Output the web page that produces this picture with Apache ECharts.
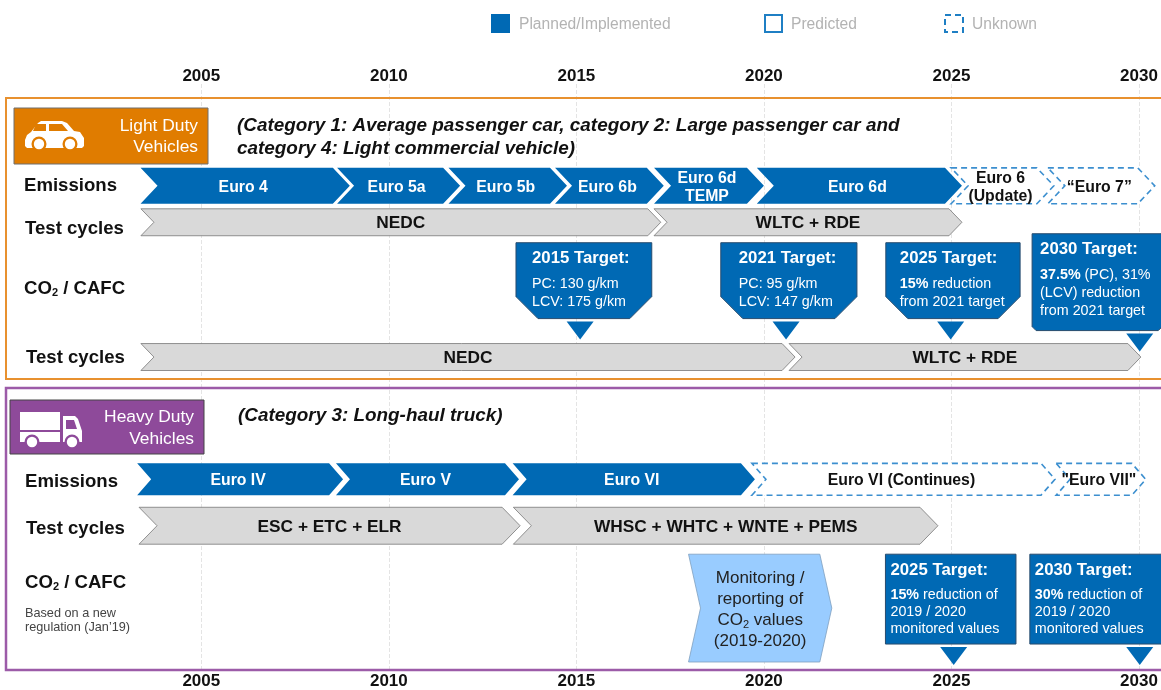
<!DOCTYPE html>
<html>
<head>
<meta charset="utf-8">
<title>EU vehicle regulation timeline</title>
<script src="https://cdn.jsdelivr.net/npm/echarts@6/dist/echarts.min.js"></script>
<style>
  html, body { margin: 0; padding: 0; background: #fff; }
  #chart { width: 1161px; height: 690px; }
</style>
</head>
<body>
<div id="chart"></div>
<script>
// all spans are in years
const legendItems = ["Planned/Implemented", "Predicted", "Unknown"];

const ldvEmissions = [
  { name: "Euro 4", from: 2003.38, to: 2008.96 },
  { name: "Euro 5a", from: 2008.62, to: 2011.9 },
  { name: "Euro 5b", from: 2011.59, to: 2014.75 },
  { name: "Euro 6b", from: 2014.43, to: 2017.33 },
  { name: "Euro 6d\nTEMP", from: 2017.07, to: 2020.0 },
  { name: "Euro 6d", from: 2019.81, to: 2025.28 },
  { name: "Euro 6\n(Update)", from: 2024.99, to: 2027.73, unknown: true },
  { name: "\u201cEuro 7\u201d", from: 2027.57, to: 2030.42, unknown: true },
];
const ldvEmissionTests = [
  { name: "NEDC", from: 2003.39, to: 2017.25 },
  { name: "WLTC + RDE", from: 2017.07, to: 2025.28 },
];
const ldvCo2Tests = [
  { name: "NEDC", from: 2003.39, to: 2020.83 },
  { name: "WLTC + RDE", from: 2020.67, to: 2030.05 },
];
const hdvEmissions = [
  { name: "Euro IV", from: 2003.29, to: 2008.78 },
  { name: "Euro V", from: 2008.59, to: 2013.47 },
  { name: "Euro VI", from: 2013.3, to: 2019.76 },
  { name: "Euro VI (Continues)", from: 2019.68, to: 2027.76, unknown: true },
  { name: "\"Euro VII\"", from: 2027.79, to: 2030.18, unknown: true },
];
const hdvTests = [
  { name: "ESC + ETC + ELR", from: 2003.34, to: 2013.5 },
  { name: "WHSC + WHTC + WNTE + PEMS", from: 2013.32, to: 2024.64 },
];
const hdvMonitoring = [
  { name: "Monitoring /\nreporting of\nCO{sub|2} values\n(2019-2020)", from: 2017.99, to: 2021.81 },
];
const ldvTargets = [
  { title: "2015 Target:", lines: ["PC: 130 g/km", "LCV: 175 g/km"], from: 2013.39, to: 2017.01, year: 2015.1 },
  { title: "2021 Target:", lines: ["PC: 95 g/km", "LCV: 147 g/km"], from: 2018.85, to: 2022.48, year: 2020.59 },
  { title: "2025 Target:", lines: ["{b|15%} reduction", "from 2021 target"], from: 2023.25, to: 2026.83, year: 2024.98 },
];
const ldvTarget2030 = [
  { title: "2030 Target:", lines: ["{b|37.5%} (PC), 31%", "(LCV) reduction", "from 2021 target"], from: 2027.15, to: 2030.62, year: 2030.02 },
];
const hdvTargets = [
  { title: "2025 Target:", lines: ["{b|15%} reduction of", "2019 / 2020", "monitored values"], from: 2023.24, to: 2026.72, year: 2025.06 },
  { title: "2030 Target:", lines: ["{b|30%} reduction of", "2019 / 2020", "monitored values"], from: 2027.09, to: 2030.62, year: 2030.02 },
];

const FONT = '"Liberation Sans", Arial, sans-serif';
const BLUE = "#0069B4";
const DASH = "#3C8FCF";
const GREY = "#D9D9D9";
const ORANGE = "#E07C00";
const PURPLE = "#8E4A9A";

const chart = echarts.init(document.getElementById("chart"), null, { renderer: "canvas" });

// chevron strip on one row
function phaseSeries(list, top, bottom, tip, look) {
  return {
    type: "custom",
    silent: true,
    clip: false,
    z: 5,
    data: list.map((p) => [p.from, p.to]),
    encode: { x: [0, 1] },
    renderItem: (params, api) => {
      const item = list[params.dataIndex];
      const x0 = api.coord([api.value(0), top])[0];
      const x1 = api.coord([api.value(1), top])[0];
      const y0 = api.coord([2005, top])[1];
      const y1 = api.coord([2005, bottom])[1];
      const mid = (y0 + y1) / 2;
      const style = item.unknown
        ? { fill: "#fff", stroke: DASH, lineWidth: 1.6, lineDash: [6, 4] }
        : { fill: look.fill, stroke: look.stroke, lineWidth: look.stroke ? 0.8 : 0 };
      const color = item.unknown ? "#111" : look.color;
      return {
        type: "group",
        children: [
          {
            type: "polygon",
            shape: {
              points: [
                [x0, y0], [x1 - tip, y0], [x1, mid], [x1 - tip, y1], [x0, y1], [x0 + tip, mid],
              ],
            },
            style: style,
          },
          {
            type: "text",
            x: (x0 + x1) / 2 + (look.dx || 0),
            y: mid + (look.dy || 0),
            style: {
              text: item.name,
              fill: color,
              font: look.weight + " " + look.size + "px " + FONT,
              align: "center",
              verticalAlign: "middle",
              lineHeight: look.lineHeight || 18,
              rich: look.rich,
            },
          },
        ],
      };
    },
  };
}

// target box with its marker triangle
function targetSeries(list, top, bottom, chamfer, markTop, markBottom, insets, textTop, gap) {
  return {
    type: "custom",
    silent: true,
    clip: false,
    z: 6,
    data: list.map((p) => [p.from, p.to, p.year]),
    encode: { x: [0, 1, 2] },
    renderItem: (params, api) => {
      const item = list[params.dataIndex];
      const x0 = api.coord([api.value(0), top])[0];
      const x1 = api.coord([api.value(1), top])[0];
      const xm = api.coord([api.value(2), top])[0];
      const y0 = api.coord([2005, top])[1];
      const y1 = api.coord([2005, bottom])[1];
      const c = chamfer;
      const tx = x0 + insets[params.dataIndex];
      const children = [
        {
          type: "polygon",
          shape: {
            points: [
              [x0, y0], [x1, y0], [x1, y1 - c], [x1 - c, y1], [x0 + c, y1], [x0, y1 - c],
            ],
          },
          style: { fill: BLUE, stroke: "#274b6d", lineWidth: 1 },
        },
        {
          type: "polygon",
          shape: {
            points: [
              [xm - 13.5, api.coord([2005, markTop])[1]],
              [xm + 13.5, api.coord([2005, markTop])[1]],
              [xm, api.coord([2005, markBottom])[1]],
            ],
          },
          style: { fill: BLUE },
        },
        {
          type: "text",
          x: tx,
          y: y0 + textTop,
          style: {
            text: item.title,
            fill: "#fff",
            font: "bold 16.8px " + FONT,
            align: "left",
            verticalAlign: "middle",
          },
        },
      ];
      item.lines.forEach((line, i) => {
        children.push({
          type: "text",
          x: tx,
          y: y0 + textTop + gap[0] + i * gap[1],
          style: {
            text: line,
            fill: "#fff",
            font: "14.3px " + FONT,
            align: "left",
            verticalAlign: "middle",
            rich: { b: { font: "bold 14.3px " + FONT, fill: "#fff" } },
          },
        });
      });
      return { type: "group", children: children };
    },
  };
}

function rowLabel(text, x, y, size) {
  return {
    type: "text",
    x: x,
    y: y,
    z: 10,
    style: {
      text: text,
      fill: "#111",
      font: "bold " + (size || 18.6) + "px " + FONT,
      verticalAlign: "middle",
      rich: { sub: { font: "bold 11px " + FONT, fill: "#111", verticalAlign: "bottom", padding: [8, 0, 0, 0] } },
    },
  };
}

function plainText(text, x, y, font, fill, align) {
  return {
    type: "text",
    x: x,
    y: y,
    z: 10,
    style: { text: text, fill: fill, font: font + " " + FONT, align: align || "left", verticalAlign: "middle" },
  };
}

function poly(points, fill) {
  return { type: "polygon", shape: { points: points }, style: { fill: fill }, z: 9 };
}

function wheel(cx, cy, ring) {
  return [
    { type: "circle", shape: { cx: cx, cy: cy, r: 7.5 }, style: { fill: ring }, z: 9 },
    { type: "circle", shape: { cx: cx, cy: cy, r: 5.2 }, style: { fill: "#fff" }, z: 9 },
  ];
}

const carBody = [[25, 140], [27, 135], [31, 132], [38, 123], [41, 121], [62, 121], [67, 123], [74, 131], [80, 132], [84, 138], [84, 146], [82, 148], [27, 148], [25, 146]];
const carWindowBack = [[36, 124], [46, 124], [46, 131], [33, 131]];
const carWindowFront = [[49, 124], [62, 124], [68, 131], [49, 131]];
const truckBox = [[20, 412], [60, 412], [60, 430], [20, 430]];
const truckBed = [[20, 432], [60, 432], [60, 442], [20, 442]];
const truckCab = [[63, 416], [75, 416], [78, 419], [82, 431], [82, 442], [63, 442]];
const truckWindow = [[66, 420], [74, 420], [77, 429], [66, 429]];

const graphics = [
  // legend
  { type: "rect", shape: { x: 491, y: 14, width: 19, height: 19 }, style: { fill: BLUE }, z: 10 },
  plainText(legendItems[0], 519, 25, "15.6px", "#b3b3b3"),
  { type: "rect", shape: { x: 765, y: 15, width: 17, height: 17 }, style: { fill: "#fff", stroke: "#1F7FC4", lineWidth: 2 }, z: 10 },
  plainText(legendItems[1], 791, 25, "15.6px", "#b3b3b3"),
  { type: "rect", shape: { x: 945, y: 15, width: 18, height: 17 }, style: { fill: "#fff", stroke: "#1F7FC4", lineWidth: 2, lineDash: [6, 4] }, z: 10 },
  plainText(legendItems[2], 972, 25, "15.6px", "#b3b3b3"),

  // panels
  { type: "rect", shape: { x: 6, y: 98, width: 1170, height: 281 }, style: { fill: "none", stroke: "#E8912F", lineWidth: 2 }, z: 2 },
  { type: "rect", shape: { x: 6, y: 388, width: 1170, height: 282 }, style: { fill: "none", stroke: "#9C5BA8", lineWidth: 2.5 }, z: 2 },

  // light duty header
  { type: "rect", shape: { x: 14, y: 108, width: 194, height: 56 }, style: { fill: ORANGE, stroke: "#6f6f6f", lineWidth: 1 }, z: 8 },
  poly(carBody, "#fff"),
  poly(carWindowBack, ORANGE),
  poly(carWindowFront, ORANGE),
  ...wheel(39, 144, ORANGE),
  ...wheel(70, 144, ORANGE),
  plainText("Light Duty", 198, 126, "17.4px", "#fff", "right"),
  plainText("Vehicles", 198, 147, "17.4px", "#fff", "right"),
  plainText("(Category 1: Average passenger car, category 2: Large passenger car and", 237, 126, "italic bold 18.9px", "#111"),
  plainText("category 4: Light commercial vehicle)", 237, 149, "italic bold 18.9px", "#111"),
  rowLabel("Emissions", 24, 186),
  rowLabel("Test cycles", 25, 229),
  rowLabel("CO{sub|2} / CAFC", 24, 289),
  rowLabel("Test cycles", 26, 358),

  // heavy duty header
  { type: "rect", shape: { x: 10, y: 400, width: 194, height: 54 }, style: { fill: PURPLE, stroke: "#444", lineWidth: 1 }, z: 8 },
  poly(truckBox, "#fff"),
  poly(truckBed, "#fff"),
  poly(truckCab, "#fff"),
  poly(truckWindow, PURPLE),
  ...wheel(32, 442, PURPLE),
  ...wheel(72, 442, PURPLE),
  plainText("Heavy Duty", 194, 417, "17.4px", "#fff", "right"),
  plainText("Vehicles", 194, 439, "17.4px", "#fff", "right"),
  plainText("(Category 3: Long-haul truck)", 238, 416, "italic bold 18.9px", "#111"),
  rowLabel("Emissions", 25, 482),
  rowLabel("Test cycles", 26, 529),
  rowLabel("CO{sub|2} / CAFC", 25, 583),
  plainText("Based on a new", 25, 613, "12.7px", "#444"),
  plainText("regulation (Jan\u201919)", 25, 627, "12.7px", "#444"),
];

const yearAxis = (position, margin, grid) => ({
  type: "value",
  position: position,
  min: 2005,
  max: 2030,
  interval: 5,
  axisLine: { show: false },
  axisTick: { show: false },
  axisLabel: {
    margin: margin,
    color: "#111",
    fontFamily: FONT,
    fontWeight: "bold",
    fontSize: 17,
    formatter: (v) => String(v),
  },
  splitLine: { show: grid, lineStyle: { color: "#e4e4e4", type: "dashed", width: 1 } },
});

const testLook = { fill: GREY, stroke: "#777", color: "#111", size: 17.3, weight: "bold", dy: 1 };
const euroLook = { fill: BLUE, color: "#fff", size: 15.8, lineHeight: 18, weight: "bold", dx: -2, dy: 1.5 };
const monitorLook = {
  fill: "#99CCFF",
  stroke: "#7f9fbf",
  color: "#222",
  size: 17,
  lineHeight: 21,
  weight: "normal",
  dy: 1.5,
  rich: { sub: { font: "11px " + FONT, fill: "#222", verticalAlign: "bottom" } },
};

const option = {
  animation: false,
  backgroundColor: "#fff",
  grid: { left: 201.3, right: 22, top: 84, bottom: 20 },
  xAxis: [yearAxis("top", -1, true), yearAxis("bottom", 4, false)],
  // y values are picture rows, top to bottom
  yAxis: { type: "value", inverse: true, min: 84, max: 670, show: false },
  graphic: graphics,
  series: [
    phaseSeries(ldvEmissions, 168, 204, 17, euroLook),
    phaseSeries(ldvEmissionTests, 209, 236, 13, testLook),
    phaseSeries(ldvCo2Tests, 344, 371, 13, testLook),
    targetSeries(ldvTargets, 243, 319, 22, 322, 340, [16, 18, 14], 16, [25, 18]),
    targetSeries(ldvTarget2030, 234, 331, 4, 334, 352, [8], 16, [25, 18]),
    phaseSeries(hdvEmissions, 464, 496, 14, euroLook),
    phaseSeries(hdvTests, 508, 545, 18, testLook),
    phaseSeries(hdvMonitoring, 555, 663, 12, monitorLook),
    targetSeries(hdvTargets, 555, 645, 0, 648, 666, [5, 5], 16, [25, 17]),
  ],
};

chart.setOption(option);
</script>
</body>
</html>
